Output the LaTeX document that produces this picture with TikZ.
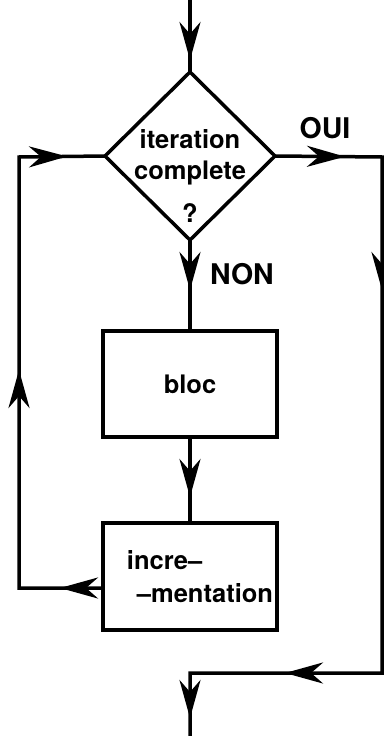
\documentclass[tikz,border=0pt]{standalone}
\usepackage{fontspec}
\setmainfont{TeX Gyre Heros}
\usetikzlibrary{arrows.meta,shapes.geometric,decorations.markings}
\newcommand\flowtip{\arrow{Stealth[length=38pt,width=21pt,inset=12pt]}}
\begin{document}
\begin{tikzpicture}[x=1pt,y=-1pt,
  every node/.style={font=\bfseries\fontsize{25.5}{31}\selectfont},
  ln/.style={line width=3.5pt},
  box/.style={draw,ln,rectangle,minimum width=174pt,inner sep=0pt,outer sep=0pt,align=left},
  dec/.style={draw,ln,diamond,minimum width=170pt,minimum height=168pt,inner sep=0pt,outer sep=0pt},
  lbl/.style={inner sep=0pt},
  big/.style={font=\bfseries\fontsize{28.5}{34}\selectfont},
]
\useasboundingbox (0,0) rectangle (383,736);
% nodes
\node[dec] (d) at (190,156) {};
\node[lbl,align=center] (dt) at (190,176) {iteration\\complete\\[12pt]?};
\node[box,minimum height=106pt] (bloc) at (190,384) {bloc};
\node[box,minimum height=107pt] (incr) at (190,576.5) {\hspace*{20pt}incre–\\[2pt]\hspace*{30pt}–mentation};
\node[lbl,big] (oui) at (325,128) {OUI};
\node[lbl,big] (non) at (242,274) {NON};
% coordinates
\coordinate (in) at (190,0);
\coordinate (out) at (190,736);
\coordinate (r1) at (382,157);
\coordinate (r2) at (382,673);
\coordinate (b1) at (190,673);
\coordinate (il) at (103,588);
\coordinate (l1) at (19,588);
\coordinate (l2) at (19,157);
% connectors
\draw[ln,postaction={decorate},decoration={markings,mark=at position 60pt with {\flowtip}}]
  (in) -- (d.north);
\draw[ln,postaction={decorate},decoration={markings,mark=at position 50pt with {\flowtip}}]
  (d.south) -- (bloc.north);
\draw[ln,postaction={decorate},decoration={markings,mark=at position 60pt with {\flowtip}}]
  (bloc.south) -- (incr.north);
\draw[ln,postaction={decorate},decoration={markings,
    mark=at position 70pt with {\flowtip},
    mark=at position 240pt with {\flowtip},
    mark=at position 720pt with {\flowtip},
    mark=at position 860pt with {\flowtip}}]
  (d.east) -- (r1) -- (r2) -- (b1) -- (out);
\draw[ln,postaction={decorate},decoration={markings,
    mark=at position 43pt with {\flowtip},
    mark=at position 302pt with {\flowtip},
    mark=at position 563pt with {\flowtip}}]
  (il) -- (l1) -- (l2) -- (d.west);
\end{tikzpicture}
\end{document}
